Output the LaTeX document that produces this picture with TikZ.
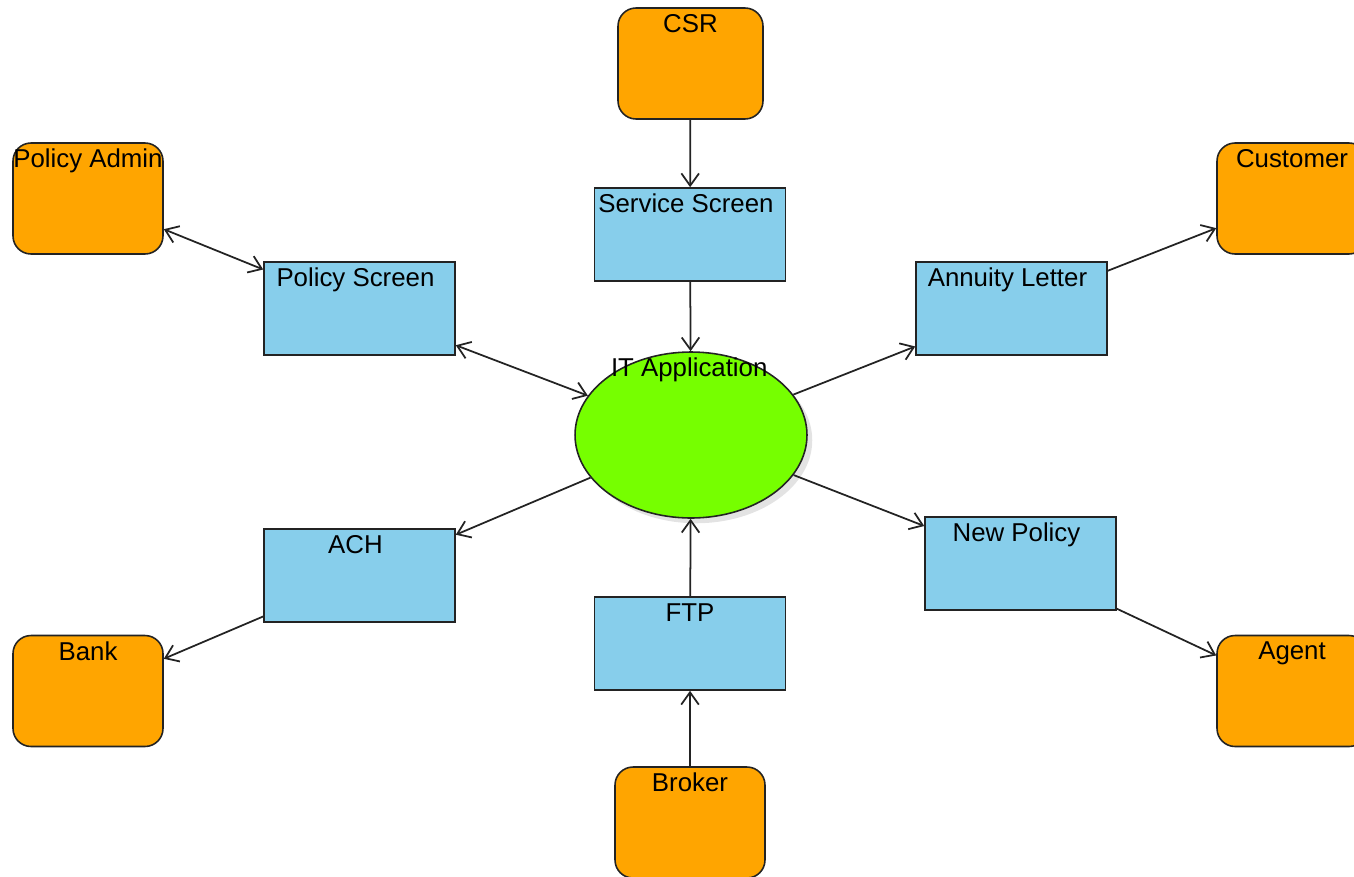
\documentclass[tikz,border=0pt]{standalone}
\usepackage{fontspec}
\setmainfont{Liberation Sans}
\usetikzlibrary{arrows.meta,shapes.geometric,shadows}
\definecolor{actor}{RGB}{255,165,0}
\definecolor{screen}{RGB}{135,206,235}
\definecolor{core}{RGB}{118,255,0}
\definecolor{edge}{RGB}{35,35,35}
\begin{document}
\begin{tikzpicture}[x=0.02cm,y=-0.02cm,
  actorbox/.style={draw=edge,line width=0.9pt,fill=actor,rounded corners=0.36cm,minimum width=3cm,minimum height=2.22cm,inner sep=0pt},
  screenbox/.style={draw=edge,line width=0.9pt,fill=screen,minimum width=3.82cm,minimum height=1.86cm,inner sep=0pt},
  corebox/.style={draw=edge,line width=0.9pt,fill=core,ellipse,minimum width=4.64cm,minimum height=3.32cm,inner sep=0pt,
     drop shadow={shadow xshift=3pt,shadow yshift=-3pt,opacity=0.22}},
  txt/.style={anchor=north,inner sep=0pt,yshift=-3.8pt,font=\fontsize{14.7}{17}\selectfont,text=black},
  stxt/.style={txt,xshift=-2.3pt},
  conn/.style={draw=edge,line width=1pt,-{Straight Barb[length=7pt,width=10pt,line width=1pt]}},
  bconn/.style={draw=edge,line width=1pt,{Straight Barb[length=7pt,width=10pt,line width=1pt]}-{Straight Barb[length=7pt,width=10pt,line width=1pt]}}]
\useasboundingbox (0,0) rectangle (1354,876);
% actors
\node[actorbox,minimum width=2.9cm] (csr) at (690.5,63.5) {};
\node[actorbox] (padmin) at (88,198.5) {};
\node[actorbox] (cust) at (1292,198.5) {};
\node[actorbox] (bank) at (88,691) {};
\node[actorbox] (agent) at (1292,691) {};
\node[actorbox] (broker) at (690,822.5) {};
% screens
\node[screenbox] (svc) at (690,234.5) {};
\node[screenbox] (pscr) at (359.5,308.5) {};
\node[screenbox] (ann) at (1011.5,308.5) {};
\node[screenbox] (ach) at (359.5,575.5) {};
\node[screenbox] (ftp) at (690,643.5) {};
\node[screenbox] (newp) at (1020.5,563.5) {};
% core
\node[corebox] (it) at (691,435) {};
% texts
\node[txt] (csrT) at (csr.north) {CSR};
\node[txt] (padminT) at (padmin.north) {Policy Admin};
\node[txt] (custT) at (cust.north) {Customer};
\node[txt] (bankT) at (bank.north) {Bank};
\node[txt] (agentT) at (agent.north) {Agent};
\node[txt] (brokerT) at (broker.north) {Broker};
\node[stxt] (svcT) at (svc.north) {Service Screen};
\node[stxt] (pscrT) at (pscr.north) {Policy Screen};
\node[stxt] (annT) at (ann.north) {Annuity Letter};
\node[stxt] (achT) at (ach.north) {ACH};
\node[txt] (ftpT) at (ftp.north) {FTP};
\node[stxt] (newpT) at (newp.north) {New Policy};
\node[txt,xshift=-1pt] (itT) at (it.north) {IT Application};
% connectors
\draw[conn] (csr) -- (svc);
\draw[conn] (svc) -- (it);
\draw[bconn] (padmin) -- (pscr);
\draw[bconn] (pscr) -- (it);
\draw[conn] (it) -- (ann);
\draw[conn] (ann) -- (cust);
\draw[conn] (it) -- (ach);
\draw[conn] (ach) -- (bank);
\draw[conn] (it) -- (newp);
\draw[conn] (newp) -- (agent);
\draw[conn] (broker) -- (ftp);
\draw[conn] (ftp) -- (it);
\end{tikzpicture}
\end{document}
